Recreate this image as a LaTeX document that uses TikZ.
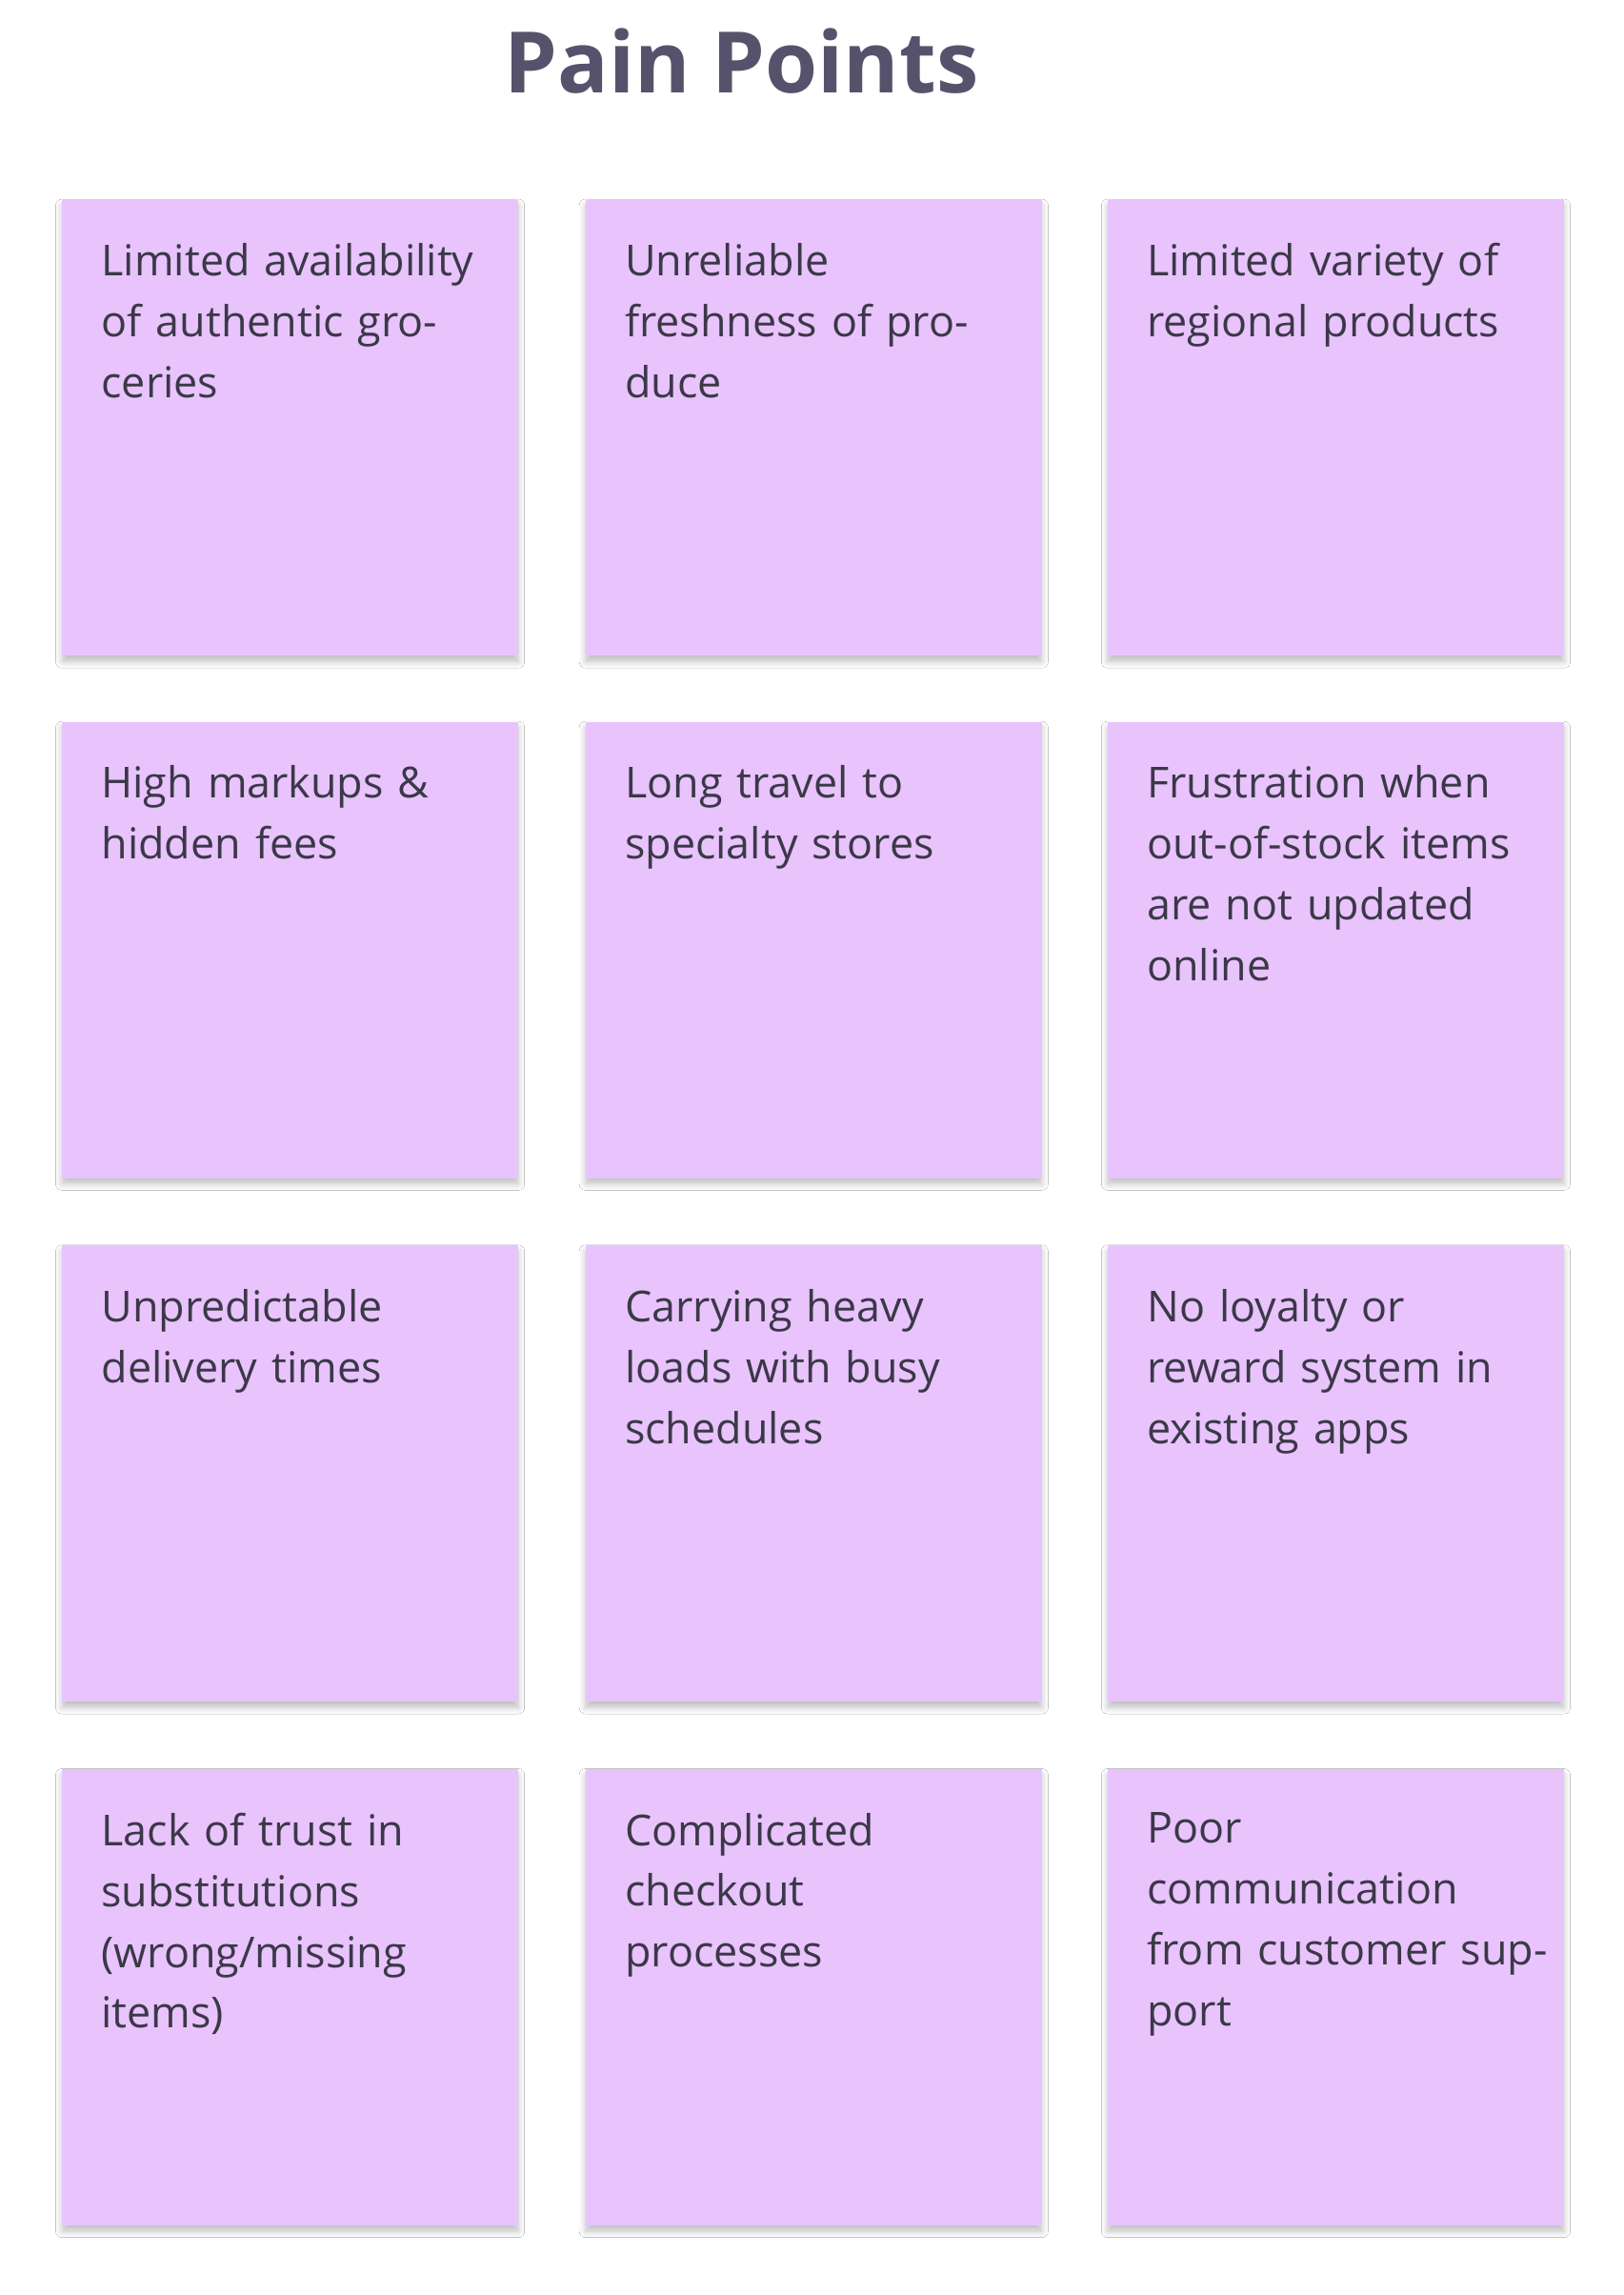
\documentclass[tikz,border=0pt]{standalone}
\usepackage{fontspec}
\setmainfont{Open Sans}
\usetikzlibrary{shadows.blur}
\definecolor{note}{HTML}{E8C3FC}
\definecolor{ink}{HTML}{3B3848}
\definecolor{titleink}{HTML}{57526C}
\tikzset{
  note/.style={fill=note, draw=none, minimum width=156pt, minimum height=156pt, anchor=north west, inner sep=0pt,
     blur shadow={shadow xshift=0pt, shadow yshift=-2pt, shadow blur steps=6, shadow opacity=25}},
  notetext/.style={anchor=north west, text width=140pt, align=left, inner sep=0pt, text=ink,
     font=\fontsize{14.6}{20.8}\selectfont}
}
\begin{document}
\begin{tikzpicture}[x=0.5pt,y=-0.5pt]
\useasboundingbox[fill=white] (0,0) rectangle (1110,1569);
\node[text=titleink, font=\fontsize{29}{34}\selectfont\bfseries] (title) at (507,42) {Pain Points};
\foreach \c/\xx in {1/42,2/400,3/757}{
  \foreach \r/\yy in {1/136,2/493,3/851,4/1209}{
    \node[note] (n\r\c) at (\xx,\yy) {};
  }
}
\newcommand{\ntext}[2]{\node[notetext] (t#1) at ([xshift=13.5pt,yshift=-15pt]n#1.north west) {#2};}
\ntext{11}{Limited availability of authentic groceries}
\ntext{12}{Unreliable\\freshness of produce}
\ntext{13}{Limited variety of regional products}
\ntext{21}{High markups \&\\hidden fees}
\ntext{22}{Long travel to\\specialty stores}
\ntext{23}{Frustration when out-of-stock items are not updated online}
\ntext{31}{Unpredictable\\delivery times}
\ntext{32}{Carrying heavy\\loads with busy schedules}
\ntext{33}{No loyalty or\\reward system in existing apps}
\ntext{41}{Lack of trust in substitutions (wrong/missing items)}
\ntext{42}{Complicated\\checkout\\processes}
\ntext{43}{Poor\\communication from customer support}
\end{tikzpicture}
\end{document}
